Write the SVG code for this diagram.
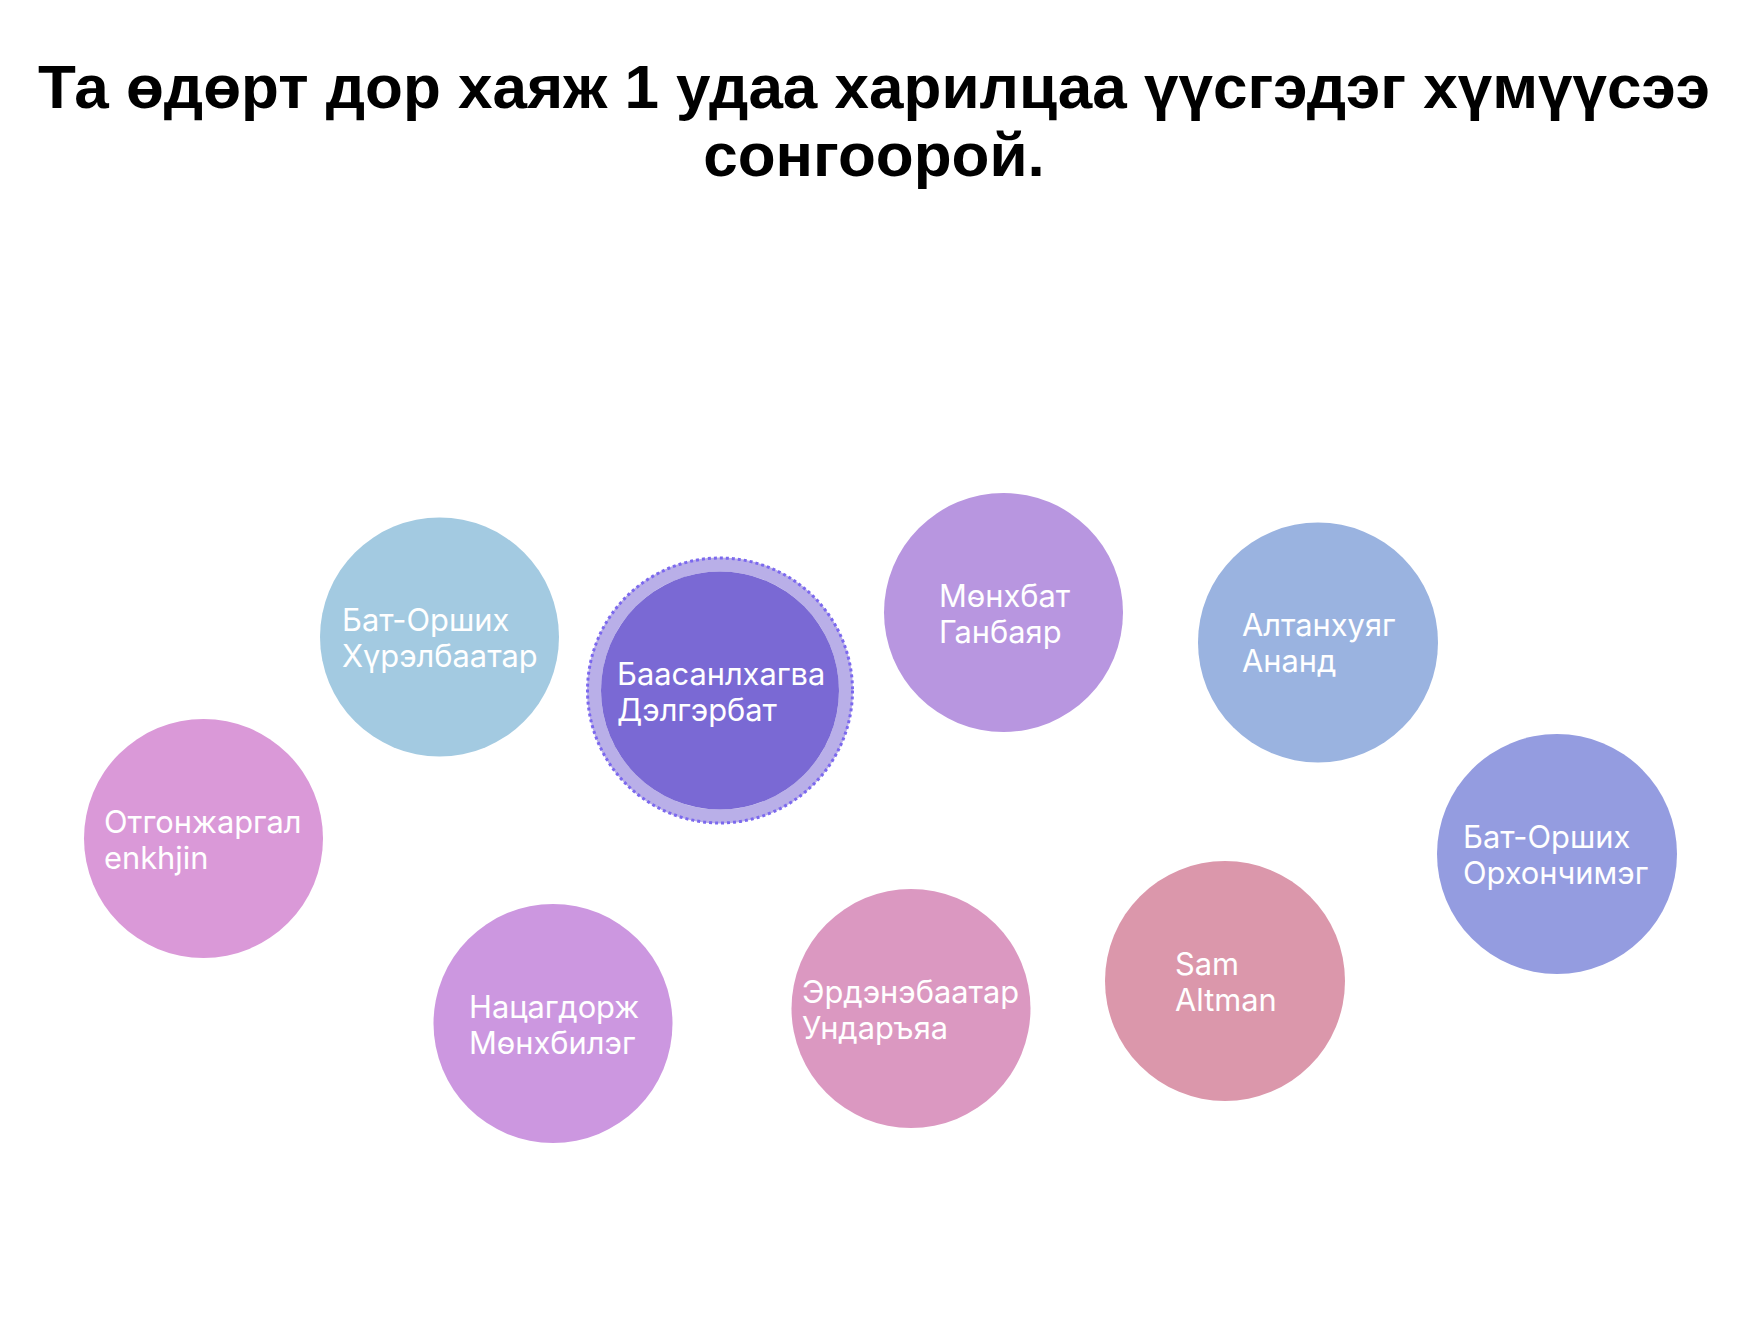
<svg xmlns="http://www.w3.org/2000/svg" width="1762" height="1329" viewBox="0 0 1762 1329">
  <style>
    .title { font-family: "Liberation Sans", Arial, sans-serif; font-weight: bold; font-size: 62px; fill: #000; text-anchor: middle; }
    .lbl { font-family: Inter, "Noto Sans", sans-serif; font-size: 30.8px; fill: #ffffff; }
  </style>
  <rect width="1762" height="1329" fill="#ffffff"/>
  <g id="title">
    <text class="title" x="874" y="108">Та өдөрт дор хаяж 1 удаа харилцаа үүсгэдэг хүмүүсээ</text>
    <text class="title" x="874" y="176">сонгоорой.</text>
  </g>
  <g id="connectors"></g>
  <g id="node-khurelbaatar">
    <circle cx="439.5" cy="637" r="119.5" fill="#A3CAE1"/>
    <text class="lbl" x="342" y="631">Бат-Орших</text>
    <text class="lbl" x="342" y="667">Хүрэлбаатар</text>
  </g>
  <g id="node-delgerbat">
    <circle cx="720" cy="690.5" r="126" fill="none" stroke="#B9AFE8" stroke-width="14"/>
    <circle cx="720" cy="690.5" r="132.5" fill="none" stroke="#7B68EE" stroke-width="3" stroke-dasharray="3 3"/>
    <circle cx="720" cy="690.5" r="119" fill="#7A69D4"/>
    <text class="lbl" x="617" y="685">Баасанлхагва</text>
    <text class="lbl" x="617" y="721">Дэлгэрбат</text>
  </g>
  <g id="node-ganbayar">
    <circle cx="1003.5" cy="612.5" r="119.5" fill="#B896E0"/>
    <text class="lbl" x="939" y="607">Мөнхбат</text>
    <text class="lbl" x="939" y="643">Ганбаяр</text>
  </g>
  <g id="node-anand">
    <circle cx="1318" cy="642.5" r="120" fill="#9AB3E0"/>
    <text class="lbl" x="1242" y="636">Алтанхуяг</text>
    <text class="lbl" x="1242" y="672">Ананд</text>
  </g>
  <g id="node-enkhjin">
    <circle cx="203.5" cy="838.5" r="119.5" fill="#DA99D8"/>
    <text class="lbl" x="104" y="833">Отгонжаргал</text>
    <text class="lbl" x="104" y="869">enkhjin</text>
  </g>
  <g id="node-orkhonchimeg">
    <circle cx="1557" cy="854" r="120" fill="#949CE0"/>
    <text class="lbl" x="1463" y="848">Бат-Орших</text>
    <text class="lbl" x="1463" y="884">Орхончимэг</text>
  </g>
  <g id="node-munkhbileg">
    <circle cx="553" cy="1023.5" r="119.5" fill="#CC97E0"/>
    <text class="lbl" x="469" y="1018">Нацагдорж</text>
    <text class="lbl" x="469" y="1054">Мөнхбилэг</text>
  </g>
  <g id="node-undaraya">
    <circle cx="911" cy="1008.5" r="119.5" fill="#DB98C1"/>
    <text class="lbl" x="802" y="1003">Эрдэнэбаатар</text>
    <text class="lbl" x="802" y="1039">Ундаръяа</text>
  </g>
  <g id="node-altman">
    <circle cx="1225" cy="981" r="120" fill="#DB97AB"/>
    <text class="lbl" x="1175" y="975">Sam</text>
    <text class="lbl" x="1175" y="1011">Altman</text>
  </g>
</svg>
